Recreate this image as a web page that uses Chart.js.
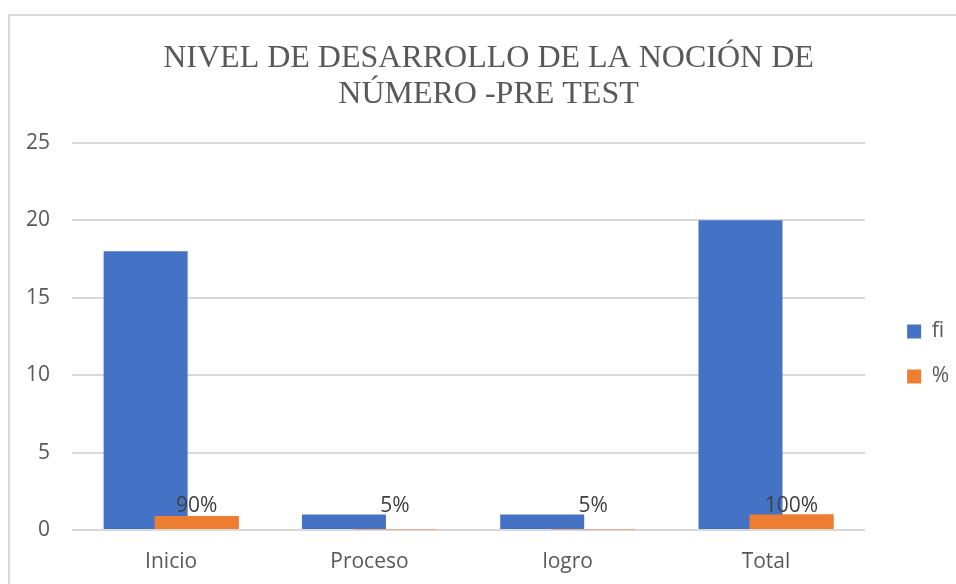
<!DOCTYPE html>
<html>
<head>
<meta charset="utf-8">
<script src="https://cdn.jsdelivr.net/npm/chart.js@4.4.0/dist/chart.umd.min.js"></script>
<style>
  body { margin: 0; background: #fff; overflow: hidden; }
  #marco { position: absolute; left: 8px; top: 14px; width: 1100px; height: 1100px; border: 2px solid #d9d9d9; }
  #lienzo { position: absolute; left: 0; top: 0; width: 956px; height: 584px; }
</style>
</head>
<body>
<div id="marco"></div>
<div id="lienzo"><canvas id="grafica"></canvas></div>
<script>
const $grafica = document.querySelector("#grafica");

const categorias = ["Inicio", "Proceso", "logro", "Total"];
const valoresFi = [18, 1, 1, 20];
const valoresPct = [0.9, 0.05, 0.05, 1];
const etiquetasPct = ["90%", "5%", "5%", "100%"];
const titulo = ["NIVEL DE DESARROLLO DE LA NOCIÓN DE", "NÚMERO -PRE TEST"];

const fuente = "'Open Sans', sans-serif";

// orange bar drawn over the blue one, plus the % labels
const encimaYEtiquetas = {
    id: "encimaYEtiquetas",
    afterLayout(chart) {
        chart.legend.left += 18;
        chart.legend.right += 18;
        chart.legend.top += 62;
        chart.legend.bottom += 62;
        chart.titleBlock.left += 18;
        chart.titleBlock.right += 18;
    },
    afterDatasetsDraw(chart) {
        const meta = chart.getDatasetMeta(1);
        meta.controller.draw();
        const ctx = chart.ctx;
        const y = chart.scales.y;
        ctx.save();
        ctx.font = "21px " + fuente;
        ctx.fillStyle = "#404040";
        ctx.textAlign = "center";
        ctx.textBaseline = "bottom";
        meta.data.forEach((barra, i) => {
            const tope = Math.min(barra.y, y.getPixelForValue(1));
            ctx.fillText(etiquetasPct[i], barra.x, tope + 2);
        });
        ctx.restore();
    }
};

new Chart($grafica, {
    type: "bar",
    data: {
        labels: categorias,
        datasets: [
            {
                label: "fi",
                data: valoresFi,
                backgroundColor: "#4472c4",
                categoryPercentage: 0.5145,
                barPercentage: 1.647,
            },
            {
                label: "%",
                data: valoresPct,
                backgroundColor: "#ed7d31",
                categoryPercentage: 0.5145,
                barPercentage: 1.647,
            },
        ]
    },
    options: {
        responsive: true,
        maintainAspectRatio: false,
        animation: false,
        layout: { padding: { top: 0, left: 0, right: 15, bottom: 0 } },
        plugins: {
            title: {
                display: true,
                text: titulo,
                color: "#595959",
                font: { family: "'Liberation Serif', 'Times New Roman', serif", size: 32, weight: "normal", lineHeight: 1.12 },
                padding: { top: 41, bottom: 30 },
            },
            legend: {
                position: "right",
                labels: {
                    boxWidth: 14,
                    boxHeight: 14,
                    padding: 24,
                    color: "#595959",
                    font: { family: fuente, size: 21 },
                },
            },
            tooltip: { enabled: false },
        },
        scales: {
            x: {
                grid: { display: false, drawTicks: false },
                border: { display: false },
                ticks: { color: "#595959", font: { family: fuente, size: 21 }, padding: 19 },
                afterFit(escala) { escala.height = 54; },
            },
            y: {
                min: 0,
                max: 25,
                ticks: { stepSize: 5, color: "#595959", font: { family: fuente, size: 21 }, padding: 22 },
                grid: { color: "#d9d9d9", lineWidth: 2, drawTicks: false },
                border: { display: false },
                afterFit(escala) { escala.width = 72; },
            },
        },
    },
    plugins: [encimaYEtiquetas],
});
</script>
</body>
</html>
